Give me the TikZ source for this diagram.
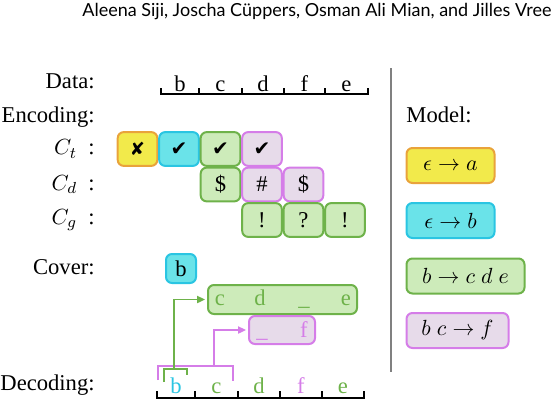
\documentclass[tikz,border=0pt]{standalone}
\usepackage{fontspec}
\setmainfont{Liberation Serif}
\newfontfamily\symfont{DejaVu Sans}
\newfontfamily\headfont{Lato}
\usetikzlibrary{arrows.meta, positioning, calc}

\definecolor{ylwfill}{HTML}{F2EA4B}
\definecolor{ylwline}{HTML}{E9A33B}
\definecolor{cynfill}{HTML}{6AE3E9}
\definecolor{cynline}{HTML}{2AC5E2}
\definecolor{grnfill}{HTML}{CDEBBA}
\definecolor{grnline}{HTML}{6EB24A}
\definecolor{prpfill}{HTML}{E7DBEA}
\definecolor{prpline}{HTML}{D57DE8}

\begin{document}
\begin{tikzpicture}[
        x=0.5pt, y=-0.5pt,
        >={Triangle[length=4pt, width=3.6pt]},
        font=\fontsize{11.3}{13.6}\selectfont,
        lbl/.style={inner sep=0pt},
        cell/.style={rectangle, rounded corners=3pt, line width=1pt, minimum width=19.8pt, minimum height=16.9pt, inner sep=0pt},
        rulebox/.style={cell, minimum height=17.5pt},
        yel/.style={fill=ylwfill, draw=ylwline},
        cyn/.style={fill=cynfill, draw=cynline},
        grn/.style={fill=grnfill, draw=grnline},
        prp/.style={fill=prpfill, draw=prpline},
        ruler/.style={line width=1pt, black},
        garrow/.style={->, grnline, line width=0.8pt, shorten >=1pt},
        parrow/.style={->, prpline, line width=0.8pt, shorten >=1pt}
    ]
        \useasboundingbox (0,0) rectangle (560,402);
        \clip (0,0) rectangle (560,402);

        % ================= CABECERA =================
        \node[lbl, anchor=base west, font=\headfont\fontsize{9}{11}\selectfont] (head) at (82,16) {Aleena Siji, Joscha Cüppers, Osman Ali Mian, and Jilles Vree};

        % ================= DATOS =================
        \node[lbl, anchor=base east] (data) at (95,88) {Data:};
        \draw[ruler] (161,94) -- (368,94);
        \foreach \x in {161,199,242,284,325,368}
            \draw[ruler] (\x,94.5) -- (\x,88);
        \foreach \x/\l [count=\i] in {180/b,220.5/c,263/d,304.5/f,346.5/e}
            \node[lbl, anchor=base] (d\i) at (\x,91) {\l};

        % ================= CODIFICACION =================
        \node[lbl, anchor=base east] (enc) at (95,122) {Encoding:};

        \node[lbl, anchor=east] (ct) at (95,149) {$C_t$\enspace:};
        \node[lbl, anchor=east] (cd) at (95,184.5) {$C_d$\enspace:};
        \node[lbl, anchor=east] (cg) at (95,220) {$C_g$\enspace:};

        % Codigos de tipo
        \node[cell, yel] (t1) at (137.5,149) {\symfont\fontsize{9}{10}\selectfont ✘};
        \node[cell, cyn] (t2) at (179,149) {\symfont\fontsize{10}{10}\selectfont ✔};
        \node[cell, grn] (t3) at (220.5,149) {\symfont\fontsize{10}{10}\selectfont ✔};
        \node[cell, prp] (t4) at (262,149) {\symfont\fontsize{10}{10}\selectfont ✔};

        % Codigos de datos
        \node[cell, grn] (s1) at (220.5,184.5) {\$};
        \node[cell, prp] (s2) at (262,184.5) {\#};
        \node[cell, prp] (s3) at (303.5,184.5) {\$};

        % Codigos de huecos
        \node[cell, grn] (g1) at (262,220) {!};
        \node[cell, grn] (g2) at (303.5,220) {?};
        \node[cell, grn] (g3) at (345,220) {!};

        % ================= COBERTURA =================
        \node[lbl, anchor=base east] (cover) at (95,274) {Cover:};
        \node[cell, cyn, minimum width=15pt, minimum height=14.5pt] (cb) at (181,268.5) {b};

        \node[cell, grn, minimum width=74.5pt, minimum height=14.5pt] (cde) at (282.5,299.5) {};
        \foreach \x/\l [count=\i] in {220/c,260/d,304/\_,346/e}
            \node[lbl, anchor=base, text=grnline] (cde\i) at (\x,305) {\l};

        \node[cell, prp, minimum width=33pt, minimum height=14pt] (uf) at (282,330) {};
        \foreach \x/\l [count=\i] in {262/\_,304/f}
            \node[lbl, anchor=base, text=prpline] (uf\i) at (\x,337) {\l};

        % ================= DECODIFICACION =================
        \node[lbl, anchor=base east] (dec) at (95,390) {Decoding:};
        \draw[ruler] (157,398) -- (364,398);
        \foreach \x in {157,195,238,280,322,364}
            \draw[ruler] (\x,398.5) -- (\x,391);
        \node[lbl, anchor=base, text=cynline] (o1) at (176,393) {b};
        \node[lbl, anchor=base, text=grnline] (o2) at (216.5,393) {c};
        \node[lbl, anchor=base, text=grnline] (o3) at (259,393) {d};
        \node[lbl, anchor=base, text=prpline] (o4) at (301,393) {f};
        \node[lbl, anchor=base, text=grnline] (o5) at (343,393) {e};

        % Corchetes y flechas
        \draw[prpline, line width=1pt] (158,380) |- (233,366) -- (233,381);
        \coordinate (ptop) at (214,366);
        \draw[parrow] (ptop) |- (uf.west);

        \draw[grnline, line width=1pt] (164,382) |- (187,369) -- (187,375);
        \coordinate (gtop) at (174,369);
        \draw[garrow] (gtop) |- (cde.west);

        % ================= SEPARADOR =================
        \draw[black!50, line width=0.6pt] (391,68) -- (391,372);

        % ================= MODELO =================
        \node[lbl, anchor=base west] (model) at (406,122) {Model:};
        \node[rulebox, yel, minimum width=44pt] (ra) at (450.5,165.5) {$\epsilon \rightarrow a$};
        \node[rulebox, cyn, minimum width=44pt] (rb) at (450.5,220.5) {$\epsilon \rightarrow b$};
        \node[rulebox, grn, minimum width=59pt] (rc) at (465.5,276) {$b \rightarrow c\;d\;e$};
        \node[rulebox, prp, minimum width=51pt] (rd) at (457.5,330.5) {$b\;c \rightarrow f$};

    \end{tikzpicture}
\end{document}
